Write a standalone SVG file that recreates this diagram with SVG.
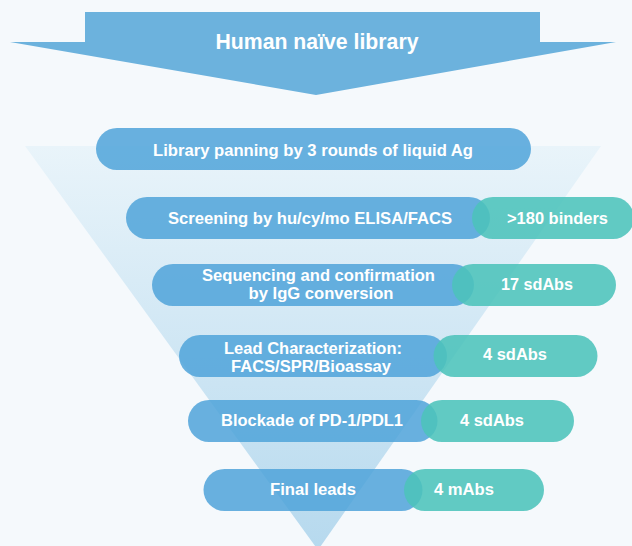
<svg xmlns="http://www.w3.org/2000/svg" width="632" height="546" viewBox="0 0 632 546">
<defs>
<linearGradient id="fg" x1="0" y1="0" x2="0" y2="1">
<stop offset="0" stop-color="#e9f4fa"/>
<stop offset="1" stop-color="#b6d9ee"/>
</linearGradient>
<style>
.blue{fill:#4fa3d9;fill-opacity:0.85}
.teal{fill:#4cc3bb;fill-opacity:0.88}
.t{font-family:"Liberation Sans",Arial,sans-serif;font-weight:bold;font-size:17px;fill:#ffffff;text-anchor:middle}
.m{font-size:16px}
.h{font-size:22px}
</style>
</defs>
<rect width="632" height="546" fill="#f5f9fc"/>
<polygon points="25,146 601,146 318,550" fill="url(#fg)"/>
<g id="top">
<polygon points="85,12 540,12 540,42 616,42 316,95 10,42 85,42" fill="#6cb2dd"/>
<text class="t h" x="317" y="49" textLength="203" lengthAdjust="spacingAndGlyphs">Human naïve library</text>
</g>
<g id="step1">
<rect class="blue" x="96" y="128" width="435" height="42" rx="21"/>
<text class="t" x="313" y="155.5" textLength="320" lengthAdjust="spacingAndGlyphs">Library panning by 3 rounds of liquid Ag</text>
</g>
<g id="step2">
<rect class="blue" x="126" y="197" width="364" height="42" rx="21"/>
<rect class="teal" x="472" y="197" width="162" height="42" rx="21"/>
<text class="t" x="310" y="223.5" textLength="284" lengthAdjust="spacingAndGlyphs">Screening by hu/cy/mo ELISA/FACS</text>
<text class="t" x="557.5" y="223.5" textLength="101" lengthAdjust="spacingAndGlyphs">&gt;180 binders</text>
</g>
<g id="step3">
<rect class="blue" x="152" y="264" width="322" height="42" rx="21"/>
<rect class="teal" x="452" y="264" width="164" height="42" rx="21"/>
<text class="t m" x="318.5" y="281" textLength="233" lengthAdjust="spacingAndGlyphs">Sequencing and confirmation</text>
<text class="t m" x="321" y="299" textLength="145" lengthAdjust="spacingAndGlyphs">by IgG conversion</text>
<text class="t" x="537" y="290" textLength="72" lengthAdjust="spacingAndGlyphs">17 sdAbs</text>
</g>
<g id="step4">
<rect class="blue" x="179" y="335" width="268" height="42" rx="21"/>
<rect class="teal" x="433.5" y="335" width="164" height="42" rx="21"/>
<text class="t m" x="313" y="353.5" textLength="178" lengthAdjust="spacingAndGlyphs">Lead Characterization:</text>
<text class="t m" x="311" y="371.7" textLength="160" lengthAdjust="spacingAndGlyphs">FACS/SPR/Bioassay</text>
<text class="t" x="515" y="360" textLength="64" lengthAdjust="spacingAndGlyphs">4 sdAbs</text>
</g>
<g id="step5">
<rect class="blue" x="188" y="400" width="249.5" height="42" rx="21"/>
<rect class="teal" x="421" y="400" width="153" height="42" rx="21"/>
<text class="t" x="312" y="425.7" textLength="182" lengthAdjust="spacingAndGlyphs">Blockade of PD-1/PDL1</text>
<text class="t" x="492" y="425.7" textLength="64" lengthAdjust="spacingAndGlyphs">4 sdAbs</text>
</g>
<g id="step6">
<rect class="blue" x="203.5" y="469" width="219" height="42" rx="21"/>
<rect class="teal" x="404" y="469" width="140" height="42" rx="21"/>
<text class="t" x="313" y="494.5" textLength="86" lengthAdjust="spacingAndGlyphs">Final leads</text>
<text class="t" x="464" y="494.5" textLength="60" lengthAdjust="spacingAndGlyphs">4 mAbs</text>
</g>
<g id="connectors"></g>
</svg>
